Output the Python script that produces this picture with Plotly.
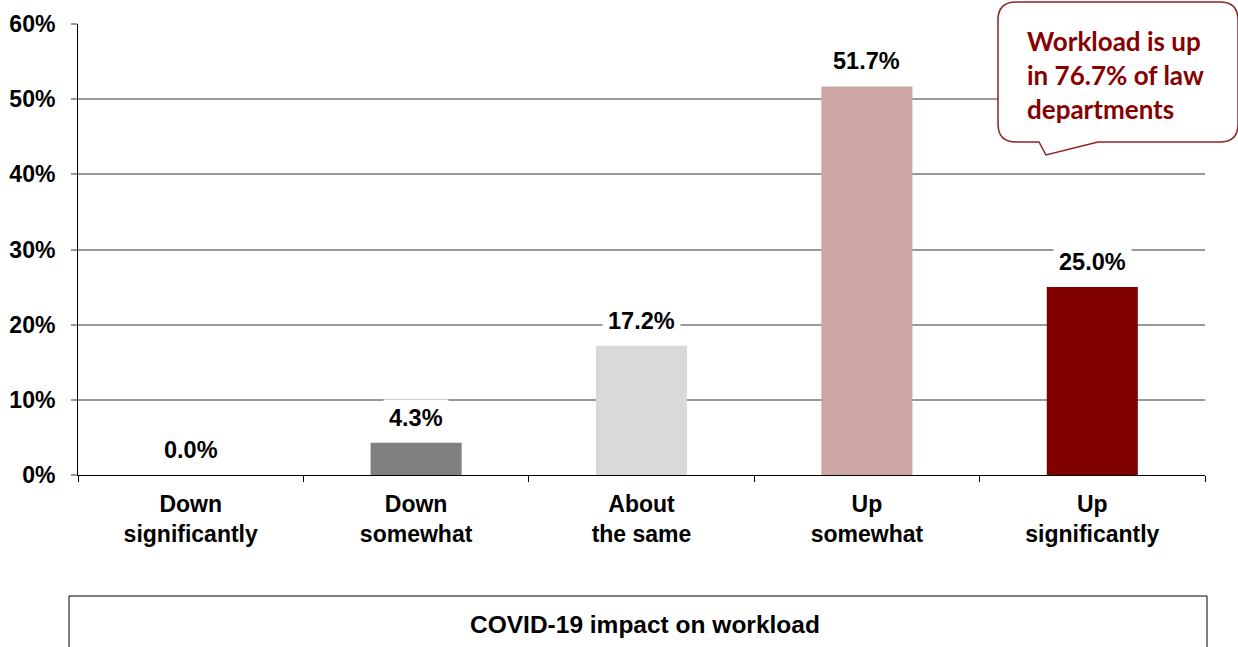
import plotly.graph_objects as go

# Survey results: change in legal department workload
categories = ["Down<br>significantly", "Down<br>somewhat", "About<br>the same",
              "Up<br>somewhat", "Up<br>significantly"]
shares = [0.0, 4.3, 17.2, 51.7, 25.0]
bar_colors = ["#808080", "#808080", "#d9d9d9", "#cca6a3", "#800000"]
y_ticks = [0, 10, 20, 30, 40, 50, 60]
callout_text = "Workload is up<br>in 76.7% of law<br>departments"
footer_text = "COVID-19 impact on workload"

W, H = 1238, 647
L, R, T, B = 78, 33, 24, 172
PW, PH = W - L - R, H - T - B


def px(x):
    return (x - L) / PW


def py(y):
    return (H - B - y) / PH


FONT = "Liberation Sans, Arial, sans-serif"

fig = go.Figure()
fig.add_trace(go.Bar(
    x=categories, y=shares,
    marker=dict(color=bar_colors, line=dict(width=0)),
    hoverinfo="skip",
))

# value labels on a white backing, above each bar
for cat, v in zip(categories, shares):
    fig.add_annotation(
        x=cat, y=v, xref="x", yref="y", text=f"{v:.1f}%",
        showarrow=False, yshift=25, yanchor="middle",
        font=dict(family=FONT, size=23.5, color="black", weight="bold"),
        bgcolor="white", borderpad=5,
    )

# speech-bubble callout
l, t, r, b, rad = 998, 2, 1238, 142, 18
pts = [
    ("M", l + rad, t), ("L", r - rad, t), ("Q", r, t, r, t + rad),
    ("L", r, b - rad), ("Q", r, b, r - rad, b), ("L", 1098, b),
    ("L", 1046, 155), ("L", 1039, b), ("L", l + rad, b),
    ("Q", l, b, l, b - rad), ("L", l, t + rad), ("Q", l, t, l + rad, t),
]
path = ""
for p in pts:
    cmd, coords = p[0], p[1:]
    xy = []
    for i in range(0, len(coords), 2):
        xy.append(f"{px(coords[i]):.5f},{py(coords[i + 1]):.5f}")
    path += cmd + " " + " ".join(xy) + " "
path += "Z"
fig.add_shape(type="path", path=path, xref="paper", yref="paper",
              line=dict(color="#8f2222", width=1.5), fillcolor="white", layer="above")
fig.add_annotation(
    x=px(1025), y=py(75), xref="paper", yref="paper", xanchor="left", yanchor="middle",
    text=callout_text, showarrow=False, align="left",
    font=dict(family="Lato, sans-serif", size=26, color="#880000", weight="bold"),
)

# footer box with the chart caption
fig.add_shape(type="rect", xref="paper", yref="paper",
              x0=px(69), x1=px(1207), y0=py(665), y1=py(596),
              line=dict(color="black", width=1), fillcolor="rgba(0,0,0,0)")
fig.add_annotation(
    x=px(645), y=py(624), xref="paper", yref="paper", xanchor="center", yanchor="middle",
    text=footer_text, showarrow=False,
    font=dict(family=FONT, size=24.5, color="black", weight="bold"),
)

fig.update_layout(
    width=W, height=H,
    margin=dict(l=L, r=R, t=T, b=B, pad=0, autoexpand=False),
    paper_bgcolor="white", plot_bgcolor="white",
    bargap=0.596, showlegend=False,
    font=dict(family=FONT, size=22, color="black"),
)
fig.update_xaxes(
    type="category", tickson="boundaries", ticks="outside", ticklen=6,
    tickcolor="black", tickwidth=1, showline=True, linecolor="black", linewidth=1,
    showgrid=False, ticklabelstandoff=8, automargin=False,
    tickfont=dict(family=FONT, size=23, color="black", weight="bold"),
)
fig.update_yaxes(
    range=[0, 60], tickvals=y_ticks, ticktext=[f"{v}%" for v in y_ticks],
    ticks="outside", ticklen=6, tickcolor="#999999", tickwidth=1.5,
    showgrid=True, gridcolor="#999999", gridwidth=1.5, zeroline=False,
    showline=True, linecolor="black", linewidth=1, ticklabelstandoff=11,
    automargin=False,
    tickfont=dict(family=FONT, size=23, color="black", weight="bold"),
)

fig.write_html("out.html")
